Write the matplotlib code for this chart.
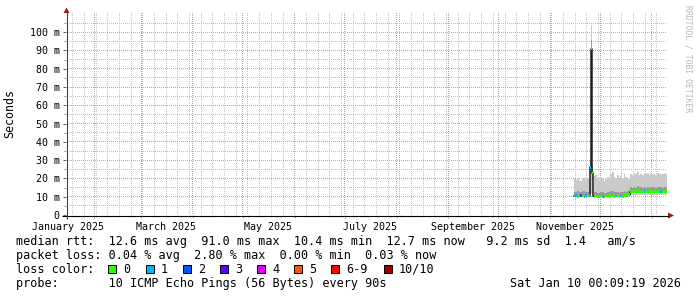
import numpy as np
import pandas as pd
import matplotlib.pyplot as plt
import matplotlib.dates as mdates
from matplotlib.patches import Polygon, Rectangle

plt.rcParams['font.family'] = ['DejaVu Sans Mono']

# ---------------- DATA ----------------
graph_start = pd.Timestamp('2025-01-15 00:09:19')
graph_end = pd.Timestamp('2026-01-10 00:09:19')
data_start = pd.Timestamp('2025-11-15 00:00:00')

# bin edges, in days after data_start (last one closes the last bin)
bin_day = list(range(0, 9)) + [9.0, 9.7, 10.2, 11.0, 11.6, 11.9, 12.3] + list(range(13, 57))

# ms values per bin (None = no data)
smoke_top = [19.5, 19.0, 20.0, 19.2, 18.5, 19.8, 20.3, 19.0, 19.6,
             20.0, 30.0, 104.0, 28.0, 19.0, None,
             21.5, 22.0, 20.5, 19.0, 21.0, 20.0, 18.5, 19.5, 21.0, 20.0, 22.5,
             23.5, 21.0, 20.5, 22.0, 19.5, 21.5, 20.0, 22.5, 21.0, 19.5, 20.5,
             22.5, 21.8, 23.0, 22.2, 23.5, 22.0, 22.6, 21.8, 23.0, 22.4, 22.8,
             21.8, 23.2, 22.2, 22.6, 22.0, 23.0, 22.4, 22.6, 22.2, 22.8, 22.4]
smoke_dark = [12.8, 12.5, 13.0, 12.6, 12.4, 12.9, 13.2, 12.7, 12.8,
              13.0, 22.0, 96.0, 24.5, 12.8, None,
              12.5, 12.8, 12.3, 12.0, 12.6, 12.4, 12.0, 12.3, 12.7, 12.5, 13.0,
              13.2, 12.6, 12.4, 12.8, 12.2, 12.7, 12.5, 13.0, 12.8, 12.9, 13.6,
              15.2, 15.0, 15.4, 15.0, 15.6, 15.1, 15.3, 14.9, 15.4, 15.0, 15.3,
              14.9, 15.5, 15.1, 15.3, 15.0, 15.4, 15.1, 15.3, 15.0, 15.2, 15.1]
median = [10.4, 10.5, 10.3, 10.4, 10.6, 10.4, 10.3, 10.5, 10.4,
          10.6, 26.0, 91.0, 23.0, 10.5, None,
          10.3, 10.4, 10.2, 10.3, 10.4, 10.3, 10.2, 10.4, 10.5, 10.3, 10.4,
          10.5, 10.3, 10.4, 10.4, 10.3, 10.4, 10.3, 10.5, 10.6, 10.9, 11.2,
          12.7, 12.8, 12.6, 12.7, 12.9, 12.7, 12.6, 12.8, 12.7, 12.6, 12.8,
          12.7, 12.9, 12.7, 12.6, 12.8, 12.7, 12.7, 12.8, 12.6, 12.7, 12.7]
smoke_low = [9.8, 9.9, 9.8, 9.7, 9.9, 9.8, 9.8, 9.9, 9.8,
             9.9, 11.0, 12.0, 11.0, 9.9, None,
             9.8, 9.7, 9.8, 9.8, 9.7, 9.8, 9.8, 9.7, 9.8, 9.8, 9.9,
             9.8, 9.8, 9.7, 9.8, 9.8, 9.7, 9.8, 9.9, 9.8, 9.9, 10.0,
             10.8, 10.9, 10.7, 10.8, 10.9, 10.8, 10.7, 10.8, 10.9, 10.8, 10.8,
             10.7, 10.9, 10.8, 10.8, 10.7, 10.9, 10.8, 10.8, 10.7, 10.8, 10.8]
# lost pings out of 10
loss = [1, 1, 0, 1, 2, 0, 1, 1, 0,
        1, 1, 0, 0, 0, 0,
        0, 0, 0, 0, 0, 1, 0, 0, 0, 0, 0,
        0, 0, 1, 0, 0, 1, 0, 0, 0, 0, 0,
        0, 0, 0, 0, 0, 0, 0, 0, 1, 0, 0,
        0, 0, 0, 0, 0, 0, 0, 1, 0, 0, 0]

loss_labels = ['0', '1', '2', '3', '4', '5', '6-9', '10/10']
loss_colors = ['#26ff00', '#00b8ff', '#0059ff', '#5e00ff', '#dd00ff', '#ff5500', '#ff0000', '#a10000']

y_ticks = [0, 10, 20, 30, 40, 50, 60, 70, 80, 90, 100]
y_ticklabels = ['0', '10 m', '20 m', '30 m', '40 m', '50 m', '60 m', '70 m', '80 m', '90 m', '100 m']
x_labels = ['January 2025', 'March 2025', 'May 2025', 'July 2025', 'September 2025', 'November 2025']
x_label_dates = ['2025-01-16', '2025-03-16', '2025-05-16', '2025-07-16', '2025-09-16', '2025-11-16']

legend_lines = [
    'median rtt:  12.6 ms avg  91.0 ms max  10.4 ms min  12.7 ms now   9.2 ms sd  1.4   am/s',
    'packet loss: 0.04 % avg  2.80 % max  0.00 % min  0.03 % now',
    'loss color:',
    'probe:       10 ICMP Echo Pings (56 Bytes) every 90s',
]
stamp = 'Sat Jan 10 00:09:19 2026'

# ---------------- FIGURE ----------------
W, H = 697, 297
fig = plt.figure(figsize=(W / 100, H / 100), dpi=100)
ax = fig.add_axes([66 / W, (H - 215) / H, 601 / W, 202 / H])
ax.set_facecolor('none')

top = np.array(smoke_top, dtype=float)
dark = np.array(smoke_dark, dtype=float)
med = np.array(median, dtype=float)
low = np.array(smoke_low, dtype=float)
edges = mdates.date2num((data_start + pd.to_timedelta(bin_day, unit='D')).to_pydatetime())


def runs(valid):
    out, i = [], 0
    while i < len(valid):
        if valid[i]:
            j = i
            while j + 1 < len(valid) and valid[j + 1]:
                j += 1
            out.append((i, j))
            i = j + 1
        else:
            i += 1
    return out


def ext(a, i, j):
    return np.append(a[i:j + 1], a[j])


# smoke + median
valid = ~np.isnan(med)
for i, j in runs(valid):
    xs = edges[i:j + 2]
    ax.fill_between(xs, ext(low, i, j), ext(top, i, j), step='post', color='#cacaca', lw=0, zorder=2)
    ax.fill_between(xs, ext(med, i, j), ext(dark, i, j), step='post', color='#9a9a9a', lw=0, zorder=2.1)
    ax.step(xs, ext(med, i, j), where='post', color='#202020', lw=1.1, zorder=3)

band = 0.75
for k in range(len(med)):
    if not valid[k]:
        continue
    n = loss[k]
    ci = n if n <= 5 else (6 if n < 10 else 7)
    ax.bar(edges[k], 2 * band, bottom=med[k] - band, width=edges[k + 1] - edges[k],
           align='edge', color=loss_colors[ci], lw=0, zorder=3.5)

ax.set_xlim(graph_start, graph_end)
ax.set_ylim(0, 110.5)
for s in ax.spines.values():
    s.set_visible(False)

mgrid = (0.96, 0.55, 0.55)
ngrid = (0.76, 0.76, 0.76)
months = pd.date_range('2025-02-01', '2026-01-01', freq='MS')
weeks = pd.date_range('2025-01-19', '2026-01-10', freq='7D')

ax.set_yticks(y_ticks)
ax.set_yticklabels(y_ticklabels, fontsize=7.2)
ax.set_yticks(range(5, 110, 10), minor=True)
ax.set_xticks(months)
ax.set_xticks(weeks, minor=True)
ax.tick_params(axis='y', which='major', length=2.2, width=0.72, color='#606060', pad=2.4)
ax.tick_params(axis='y', which='minor', length=1.4, width=0.72, color='#909090')
ax.tick_params(axis='x', which='major', length=2.2, width=0.72, color=mgrid, labelbottom=False)
ax.tick_params(axis='x', which='minor', length=1.4, width=0.72, color=ngrid)

for lab, d in zip(x_labels, x_label_dates):
    ax.text(pd.Timestamp(d), -14.5 / 202, lab, transform=ax.get_xaxis_transform(),
            ha='center', va='baseline', fontsize=7.2)

# ---------------- GRID (1px dots, under the data) ----------------
img = np.zeros((H, W, 4))
(x0, y0), (x1, y1) = ax.transAxes.transform([(0, 0), (1, 1)])
c0, c1 = int(round(x0)), int(round(x1))
r_top, r_bot = H - int(round(y1)), H - int(round(y0))


def vline(d, rgb):
    c = int(np.floor(ax.transData.transform((mdates.date2num(d), 0))[0]))
    if c0 < c < c1:
        img[r_top:r_bot:2, c] = (*rgb, 1)


def hline(v, rgb):
    r = H - 1 - int(np.floor(ax.transData.transform((0, v))[1]))
    img[r, c0 + 1:c1:2] = (*rgb, 1)


for d in weeks:
    vline(d, ngrid)
for v in range(5, 110, 10):
    hline(v, ngrid)
for d in months:
    vline(d, mgrid)
for v in y_ticks[1:]:
    hline(v, mgrid)
fig.figimage(img, xo=0, yo=0, origin='upper', zorder=-1)

# ---------------- OVERLAY (pixel coords) ----------------
ov = fig.add_axes([0, 0, 1, 1], facecolor='none')
ov.set_xlim(0, W)
ov.set_ylim(H, 0)
ov.axis('off')

ov.plot([62, 669], [215.5, 215.5], color='black', lw=0.8, solid_capstyle='butt')
ov.plot([66.5, 66.5], [219, 12], color='#404040', lw=0.8, solid_capstyle='butt')
ov.add_patch(Polygon([[668, 212.5], [668, 218.5], [674, 215.5]], closed=True, color='#a01818', lw=0))
ov.add_patch(Polygon([[63.5, 13], [69.5, 13], [66.5, 7.5]], closed=True, color='#a01818', lw=0))

ov.text(10, 113, 'Seconds', rotation=90, ha='center', va='center', fontsize=8.4)
ov.text(688, 5, 'RRDTOOL / TOBI OETIKER', rotation=270, ha='center', va='top',
        fontsize=5.8, color='#b8b8b8')

base = [245, 259, 273, 287]
for txt, yb in zip(legend_lines, base):
    ov.text(16, yb, txt, ha='left', va='baseline', fontsize=8.45)
ov.text(681, base[3], stamp, ha='right', va='baseline', fontsize=8.45)

box_x = [108, 146, 183, 220, 257, 294, 331, 384]
for bx, lab, col in zip(box_x, loss_labels, loss_colors):
    ov.add_patch(Rectangle((bx, 264.5), 8, 8, facecolor=col, edgecolor='black', lw=0.72))
    ov.text(bx + 15, base[2], lab, ha='left', va='baseline', fontsize=8.45)

fig.savefig('out.png', dpi=100, facecolor='white')
